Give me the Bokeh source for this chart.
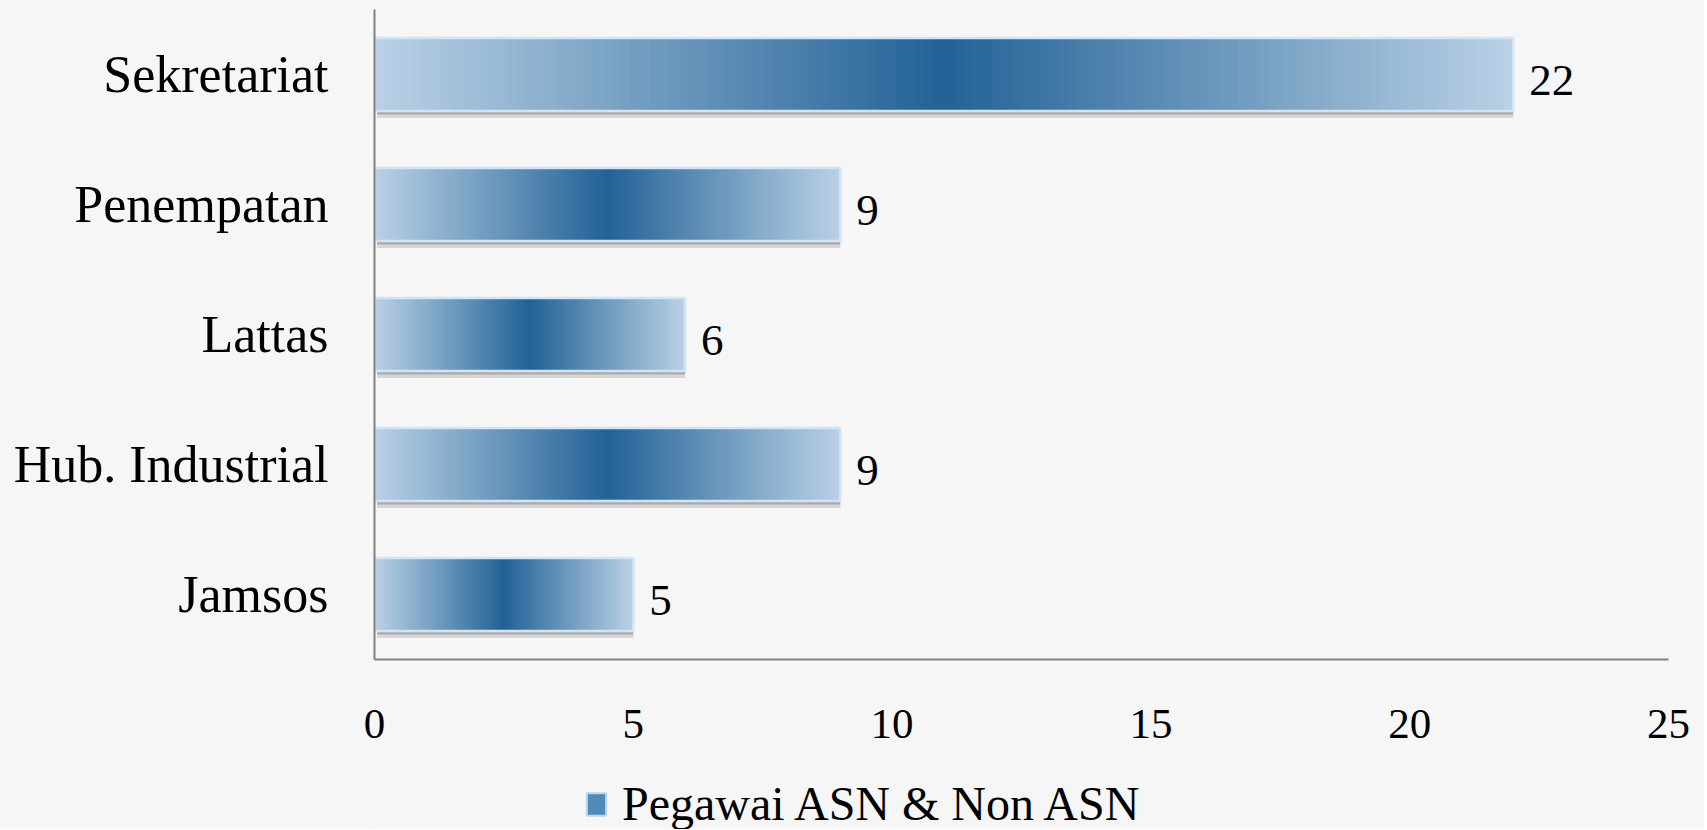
from bokeh.plotting import figure
from bokeh.layouts import column
from bokeh.models import FactorRange, Range1d, Legend, LegendItem, ColumnDataSource
from bokeh.transform import dodge
from bokeh.embed import file_html
from bokeh.resources import INLINE
from bokeh.core.properties import value

# ---- data ----
categories = ["Jamsos", "Hub. Industrial", "Lattas", "Penempatan", "Sekretariat"]
values = [5, 9, 6, 9, 22]
x_ticks = [0, 5, 10, 15, 20, 25]
series_name = "Pegawai ASN & Non ASN"

FONT = "Liberation Serif"
BG = "#f6f6f6"
LIGHT = (186, 209, 230)
DARK = (34, 98, 150)
N_STRIPS = 120
BAR_H = 0.56


def grad_color(t):
    m = 1.0 - abs(2.0 * t - 1.0)
    r = [round(LIGHT[i] + (DARK[i] - LIGHT[i]) * m) for i in range(3)]
    return "#%02x%02x%02x" % tuple(r)


# build gradient strips from the data values
s_y, s_l, s_r, s_c = [], [], [], []
for cat, v in zip(categories, values):
    for i in range(N_STRIPS):
        s_y.append(cat)
        s_l.append(v * i / N_STRIPS)
        s_r.append(min(v, v * (i + 1.6) / N_STRIPS))
        s_c.append(grad_color((i + 0.5) / N_STRIPS))
strips = ColumnDataSource(dict(y=s_y, left=s_l, right=s_r, color=s_c))
bars = ColumnDataSource(dict(y=categories, right=values, label=[str(v) for v in values]))

W = 1704
p = figure(
    width=W, height=767,
    y_range=FactorRange(*categories),
    x_range=Range1d(0, 25),
    output_backend="svg", toolbar_location=None,
    min_border_left=374, min_border_right=36, min_border_top=9, min_border_bottom=108,
    background_fill_color=BG, border_fill_color=BG,
)
p.outline_line_color = None
p.grid.visible = False

# shadow under bars
p.hbar(y=dodge("y", -0.31, range=p.y_range), left=0.05, right="right", height=0.05,
       source=bars, fill_color="#8a8a8a", fill_alpha=0.3, line_color=None)
p.hbar(y=dodge("y", -0.295, range=p.y_range), left=0.05, right="right", height=0.025,
       source=bars, fill_color="#5a5a5a", fill_alpha=0.35, line_color=None)

# gradient bars
p.hbar(y="y", left="left", right="right", height=BAR_H, source=strips,
       fill_color="color", line_color=None)
# bevel outline
p.hbar(y="y", left=0, right="right", height=BAR_H, source=bars,
       fill_color=None, line_color="#d2e4f4", line_width=2.5)

# value labels
p.text(x="right", y="y", text="label", source=bars, x_offset=16, y_offset=6,
       text_font=value(FONT), text_font_size="45px", text_color="#000000",
       text_baseline="middle", text_align="left")

# axes
p.xaxis.ticker = x_ticks
p.xaxis.major_tick_line_color = None
p.xaxis.minor_tick_line_color = None
p.xaxis.axis_line_color = "#808080"
p.xaxis.axis_line_width = 2
p.xaxis.major_label_text_font = FONT
p.xaxis.major_label_text_font_size = "43px"
p.xaxis.major_label_text_color = "#000000"
p.xaxis.major_label_standoff = 44

p.yaxis.major_tick_line_color = None
p.yaxis.minor_tick_line_color = None
p.yaxis.axis_line_color = "#808080"
p.yaxis.axis_line_width = 2
p.yaxis.major_label_text_font = FONT
p.yaxis.major_label_text_font_size = "52px"
p.yaxis.major_label_text_color = "#000000"
p.yaxis.major_label_standoff = 40

# legend strip (separate small figure below the chart; its frame aligns with the chart's)
q = figure(width=W, height=62, x_range=Range1d(0, 1), y_range=Range1d(0, 1),
           output_backend="svg", toolbar_location=None,
           x_axis_location=None, y_axis_location=None,
           min_border_left=374, min_border_right=36,
           min_border_top=0, min_border_bottom=0,
           background_fill_color=BG, border_fill_color=BG)
q.outline_line_color = None
q.grid.visible = False
# legend proxy glyph (kept outside the visible ranges; only its legend swatch shows)
proxy = ColumnDataSource(dict(y=[-5.0], left=[-3.0], right=[-2.0]))
r_leg = q.hbar(y="y", left="left", right="right", height=0.5, source=proxy,
               fill_color="#4f8ab8", line_color="#bcd6ec", line_width=2)
legend = Legend(items=[LegendItem(label=series_name, renderers=[r_leg])],
                location=(210, -2), orientation="horizontal",
                background_fill_alpha=0, border_line_color=None,
                padding=0, margin=0, spacing=0,
                glyph_width=24, glyph_height=28, label_standoff=14,
                label_text_font=FONT, label_text_font_size="48px",
                label_text_color="#000000")
q.add_layout(legend, "center")

layout = column(p, q, spacing=0)
layout.styles = {"background-color": BG}
open("out.html", "w").write(file_html(layout, INLINE))
